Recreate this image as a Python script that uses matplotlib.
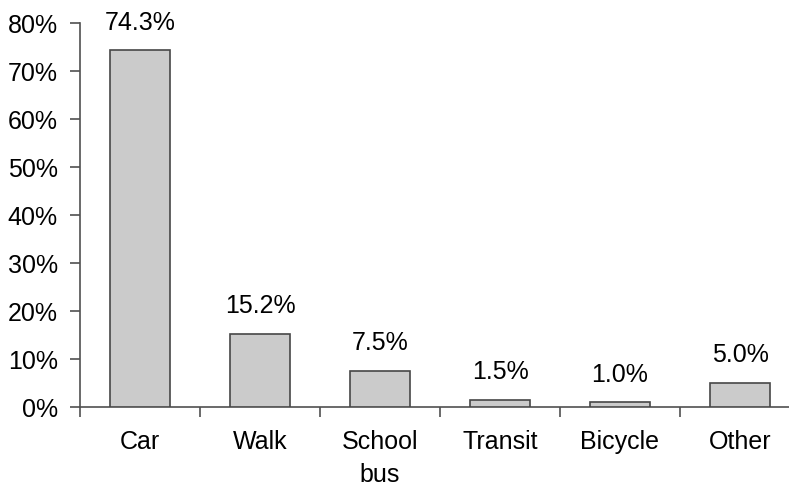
"""Travel mode to school — share of trips by mode."""

import matplotlib
matplotlib.use("Agg")
import matplotlib.pyplot as plt
from matplotlib.ticker import FuncFormatter, FixedLocator

plt.rcParams["font.family"] = ["Liberation Sans", "DejaVu Sans"]

modes = ["Car", "Walk", "School\nbus", "Transit", "Bicycle", "Other"]
shares = [74.3, 15.2, 7.5, 1.5, 1.0, 5.0]
y_ticks = [0, 10, 20, 30, 40, 50, 60, 70, 80]

BAR_FILL = "#cbcbcb"
EDGE = "#474747"
AXIS = "#505050"
FS = 18

fig = plt.figure(figsize=(7.89, 4.85), dpi=100)
W, H = 789, 485
# axes runs past the right edge of the figure, like the original crop
ax = fig.add_axes([80 / W, (H - 408) / H, 720 / W, 384 / H])

x = list(range(len(modes)))
ax.bar(x, shares, width=0.5, color=BAR_FILL, edgecolor=EDGE, linewidth=1.2, zorder=3)

for xi, v in zip(x, shares):
    ax.annotate(f"{v:.1f}%", (xi, v), xytext=(0, 12), textcoords="offset points",
                ha="center", va="bottom", fontsize=FS, color="black")

ax.set_xlim(-0.5, len(modes) - 0.5)
ax.set_ylim(0, 80)
ax.set_yticks(y_ticks)
ax.yaxis.set_major_formatter(FuncFormatter(lambda v, _p: f"{v:.0f}%"))

ax.set_xticks(x)
ax.set_xticklabels(modes, fontsize=FS, linespacing=1.45)
ax.xaxis.set_minor_locator(FixedLocator([i - 0.5 for i in range(len(modes) + 1)]))
ax.tick_params(axis="x", which="major", length=0, pad=16)
ax.tick_params(axis="x", which="minor", length=7, width=1.2, color=AXIS, direction="out")
ax.tick_params(axis="y", length=7, width=1.2, color=AXIS, pad=9, labelsize=FS)

for side in ("top", "right"):
    ax.spines[side].set_visible(False)
for side in ("left", "bottom"):
    ax.spines[side].set_color(AXIS)
    ax.spines[side].set_linewidth(1.2)

fig.savefig("out.png", dpi=100)
plt.close(fig)
